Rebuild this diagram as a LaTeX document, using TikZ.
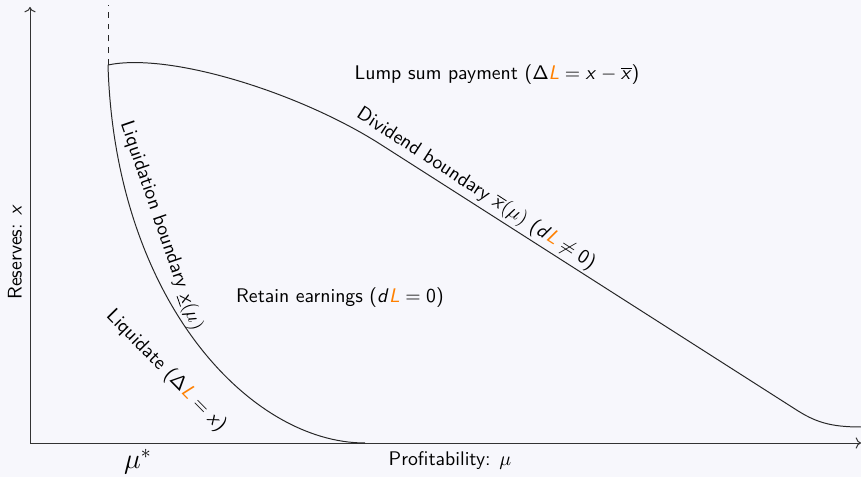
\documentclass[tikz,border=0pt]{standalone}
\usepackage{amsmath,amssymb}
\usepackage{tikz}
\usetikzlibrary{arrows.meta,calc}
\usepackage{xcolor}
\definecolor{bgpaper}{RGB}{247,247,252}
\definecolor{lorange}{RGB}{255,128,0}
\DeclareMathAlphabet{\mathsfit}{OT1}{cmss}{m}{sl}
\newcommand{\orL}{\textcolor{lorange}{\mathsfit{L}}}
\newcommand{\sfx}{\mathsfit{x}}

\begin{document}
\begin{tikzpicture}[
    x=.0178cm,y=.0178cm,
    lbl/.style={font=\sffamily,inner sep=1pt},
    ax/.style={->,line width=.5pt,black!80},
    bd/.style={line width=.5pt,black!85}
  ]
    \fill[bgpaper] (0,0) rectangle (861,477);
    \useasboundingbox (0,0) rectangle (861,477);
    % axes
    \coordinate (o) at (30,34);
    \coordinate (yend) at (30,470);
    \coordinate (xend) at (861,34);
    \draw[ax] (o)--(yend);
    \draw[ax] (o)--(xend);
    % boundaries
    \coordinate (mus) at (108,412);
    \coordinate (dtop) at (108,472);
    \coordinate (liq) at (365,34);
    \coordinate (dva) at (380,333);
    \coordinate (dvb) at (795,68);
    \coordinate (dvend) at (861,50);
    \draw[bd,dashed] (mus)--(dtop);
    \draw[bd] (mus) .. controls (115,177) and (250,34) .. (liq);
    \draw[bd] (mus) .. controls (170,425) and (300,384) .. (dva) -- (dvb)
      .. controls (815,55) and (830,50) .. (dvend);
    % labels
    \node[lbl] (ylab) at (15,225) [rotate=90] {Reserves: $\sfx$};
    \node[lbl] (xlab) at (450,16) {Profitability: $\mu$};
    \node[lbl,font=\Large] (mustar) at (138,15) {$\mu^*$};
    \node[lbl] (lump) at (497,402) {Lump sum payment ($\mathsf{\Delta}\orL=\sfx-\overline{\sfx}$)};
    \node[lbl] (retain) at (340,179) {Retain earnings ($\mathsfit{d}\orL=\mathsf{0}$)};
    \node[lbl] (divlab) at (476,288) [rotate=-33] {Dividend boundary $\overline{\sfx}(\mu)$ ($\mathsfit{d}\orL\neq\mathsf{0}$)};
    \node[lbl] (liqlab) at (161,251) [rotate=-71] {Liquidation boundary $\underline{\sfx}(\mu)$};
    \node[lbl] (liqdate) at (166,106) [rotate=-45.5] {Liquidate ($\mathsf{\Delta}\orL=\sfx$)};
  \end{tikzpicture}
\end{document}
